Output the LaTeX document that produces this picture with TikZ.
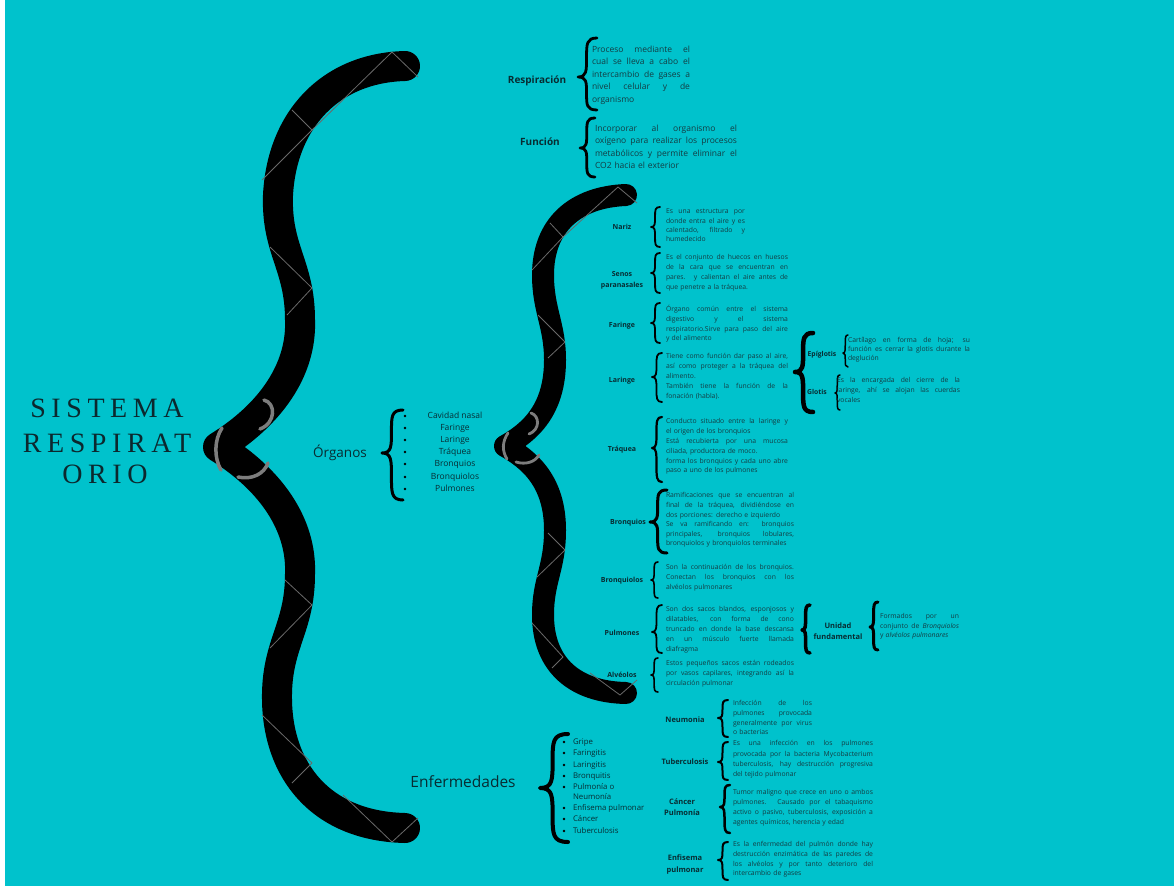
\documentclass[tikz,border=0pt]{standalone}
\usepackage{fontspec}
\setmainfont{Open Sans}
\newfontfamily\titlefont[LetterSpace=20]{Liberation Serif}
\definecolor{bg}{RGB}{0,194,204}
\definecolor{labc}{RGB}{8,44,50}
\definecolor{txtc}{RGB}{20,60,66}
\definecolor{titc}{RGB}{12,40,46}
\definecolor{curlc}{RGB}{125,125,125}
\definecolor{facetc}{RGB}{105,105,105}
\newcommand{\jl}[1]{\makebox[\linewidth][s]{\spaceskip=0pt\xspaceskip=0pt\relax #1}\par}
\newcommand{\cbr}[6][2]{%
 \pgfmathsetmacro\bxm{#2+0.45*(#3-#2)}%
 \pgfmathsetmacro\bua{#4+0.15*(#5-#4)}%
 \pgfmathsetmacro\bub{#4+0.5*(#5-#4)}%
 \pgfmathsetmacro\buc{#5-0.15*(#5-#4)}%
 \pgfmathsetmacro\bla{#5+0.15*(#6-#5)}%
 \pgfmathsetmacro\blb{#5+0.5*(#6-#5)}%
 \pgfmathsetmacro\blc{#6-0.15*(#6-#5)}%
 \draw[line width=#1pt, line cap=round, line join=round] (#3,#4) .. controls (\bxm,#4) and (\bxm,\bua) .. (\bxm,\bub) .. controls (\bxm,\buc) and (\bxm,#5) .. (#2,#5) .. controls (\bxm,#5) and (\bxm,\bla) .. (\bxm,\blb) .. controls (\bxm,\blc) and (\bxm,#6) .. (#3,#6);}
\begin{document}
\begin{tikzpicture}[x=1pt,y=-1pt,
 lab/.style={inner sep=0, outer sep=0, text=labc, anchor=base},
 slab/.style={lab, font=\bfseries\fontsize{7}{8}\selectfont},
 dlab/.style={lab, font=\bfseries\fontsize{7.5}{9}\selectfont},
 desc/.style={anchor=base west, inner sep=0, outer sep=0, text=txtc, align=left},
 bigb/.style={line width=30pt, line cap=round, line join=round, draw=black},
 facet/.style={draw=facetc, line width=0.8pt},
 curlst/.style={draw=curlc, line width=3.5pt, line cap=round},
 ttl/.style={anchor=base, inner sep=0, text=titc, font=\titlefont\fontsize{28}{30}\selectfont}
]
\fill[white] (0,0) rectangle (1174,888);
\fill[bg] (5,0) rectangle (1174,886);
\useasboundingbox (0,0) rectangle (1174,888);

% title
\node[ttl] (t1) at (107,417) {SISTEMA};
\node[ttl] (t2) at (107,452) {RESPIRAT};
\node[ttl] (t3) at (105,483) {ORIO};

% big brace
\draw[bigb] (405,66) .. controls (330,68) and (282,120) .. (278,195) .. controls (276,250) and (300,265) .. (300,320) .. controls (302,370) and (270,415) .. (218,447) .. controls (270,479) and (302,524) .. (300,574) .. controls (300,629) and (276,644) .. (277,700) .. controls (278,770) and (320,826) .. (405,828);
\foreach \a/\b in {{392,52}/{418,77},{392,52}/{312,130},{292,110}/{312,130},{312,130}/{262,180},{270,247}/{312,288},{312,288}/{287,315},{285,580}/{312,605},{312,605}/{270,648},{262,715}/{312,763},{312,763}/{292,783},{343,795}/{392,842},{392,842}/{418,818}}
  \draw[facet] (\a) -- (\b);
\draw[curlst] (264,400) .. controls (276,403) and (276,423) .. (260,429);
\draw[curlst] (222,428) .. controls (214,440) and (214,458) .. (221,470);
\draw[curlst] (238,477) .. controls (252,480) and (264,474) .. (268,463);

% organs brace
\draw[bigb, line width=22pt] (626,195) .. controls (575,197) and (543,225) .. (543,275) .. controls (543,310) and (555,325) .. (555,360) .. controls (555,410) and (530,432) .. (505,446) .. controls (530,460) and (555,482) .. (555,530) .. controls (555,568) and (543,580) .. (543,615) .. controls (543,665) and (575,692) .. (626,693);
\foreach \a/\b in {{618,187}/{637,203},{618,187}/{563,237},{550,223}/{563,237},{563,237}/{532,270},{538,315}/{565,342},{565,342}/{548,358},{548,533}/{565,550},{565,550}/{537,577},{532,623}/{563,657},{563,657}/{552,668},{590,673}/{620,695},{620,695}/{637,680}}
  \draw[facet] (\a) -- (\b);
\draw[curlst, line width=2.8pt] (531,413) .. controls (540,416) and (540,430) .. (529,434);
\draw[curlst, line width=2.8pt] (508,433) .. controls (502,442) and (502,451) .. (507,459);
\draw[curlst, line width=2.8pt] (516,462) .. controls (526,465) and (535,462) .. (539,455);

% top section
\node[lab, font=\bfseries\fontsize{10}{12}\selectfont] (lResp) at (537,84) {Respiración};
\cbr[2.8]{578}{597}{38}{77}{110}
\node[desc, text width=98pt, font=\fontsize{8.5}{12.5}\selectfont] (dResp) at (592,52.3) {\jl{Proceso mediante el}\jl{cual se lleva a cabo el}\jl{intercambio de gases a}\jl{nivel celular y de}organismo};
\node[lab, font=\bfseries\fontsize{10}{12}\selectfont] (lFunc) at (540,145) {Función};
\cbr[2.8]{580}{595}{118}{148}{177}
\node[desc, text width=142pt, font=\fontsize{8.5}{12.5}\selectfont] (dFunc) at (595,131.3) {\jl{Incorporar al organismo el}\jl{oxígeno para realizar los procesos}\jl{metabólicos y permite eliminar el}CO2 hacia el exterior};

% Organos
\node[lab, font=\fontsize{13.5}{15}\selectfont] (lOrg) at (340,457) {Órganos};
\cbr[3]{382}{403}{410}{453}{500}
\foreach \t/\y [count=\i] in {Cavidad nasal/416, Faringe/428, Laringe/440, Tráquea/452, Bronquios/464, Bronquiolos/477, Pulmones/489}{
  \fill[black] (405,\y) circle (1.4pt);
  \node[lab, font=\fontsize{8.5}{10}\selectfont] (org\i) at (455,{\y+2.4}) {\t};
}

% organ details
\node[slab] (lNar) at (622,229) {Nariz};
\cbr[1.8]{651}{660}{207}{227}{247}
\node[desc, text width=79pt, font=\fontsize{6.8}{9.3}\selectfont] (dNar) at (666,213.8) {\jl{Es una estructura por}\jl{donde entra el aire y es}\jl{calentado, filtrado y}humedecido};

\node[slab] (lSen1) at (622,276) {Senos};
\node[slab] (lSen2) at (622,287) {paranasales};
\cbr[1.8]{651}{660}{253}{273}{293}
\node[desc, text width=122pt, font=\fontsize{6.8}{9.9}\selectfont] (dSen) at (666,259.8) {\jl{Es el conjunto de huecos en huesos}\jl{de la cara que se encuentran en}\jl{pares. y calientan el aire antes de}que penetre a la tráquea.};

\node[slab] (lFar) at (622,327) {Faringe};
\cbr[1.8]{651}{660}{303}{323}{343}
\node[desc, text width=122pt, font=\fontsize{6.8}{9.7}\selectfont] (dFar) at (666,311.8) {\jl{Órgano común entre el sistema}\jl{digestivo y el sistema}\jl{respiratorio.Sirve para paso del aire}y del alimento};

\node[slab] (lLar) at (622,382) {Laringe};
\cbr[1.8]{652}{662}{353}{377}{402}
\node[desc, text width=122pt, font=\fontsize{6.8}{10}\selectfont] (dLar) at (666,358.8) {\jl{Tiene como función dar paso al aire,}\jl{así como proteger a la tráquea del}alimento.\par\jl{También tiene la función de la}fonación (habla).};

\cbr[4.5]{795}{813}{333}{372}{412}
\node[lab, font=\bfseries\fontsize{6.8}{8}\selectfont] (lEpi) at (822,356) {Epíglotis};
\cbr[1.5]{843}{848}{335}{353}{367}
\node[desc, text width=122pt, font=\fontsize{6.8}{9}\selectfont] (dEpi) at (848,342.8) {\jl{Cartílago en forma de hoja; su}\jl{función es cerrar la glotis durante la}deglución};
\node[lab, font=\bfseries\fontsize{6.8}{8}\selectfont] (lGlo) at (817,394) {Glotis};
\cbr[1.5]{835}{840}{375}{393}{410}
\node[desc, text width=123pt, font=\fontsize{6.8}{10}\selectfont] (dGlo) at (837,382.8) {\jl{Es la encargada del cierre de la}\jl{laringe, ahí se alojan las cuerdas}vocales};

\node[slab] (lTra) at (622,451) {Tráquea};
\cbr[2.2]{652}{662}{417}{448}{482}
\node[desc, text width=122pt, font=\fontsize{6.8}{9.8}\selectfont] (dTra) at (666,423.8) {\jl{Conducto situado entre la laringe y}el origen de los bronquios\par\jl{Está recubierta por una mucosa}ciliada, productora de moco.\par\jl{forma los bronquios y cada uno abre}paso a uno de los pulmones};

\node[slab] (lBro) at (628,524) {Bronquios};
\cbr[3]{650}{667}{490}{522}{553}
\node[desc, text width=128pt, font=\fontsize{6.8}{9.6}\selectfont] (dBro) at (666,497.8) {\jl{Ramificaciones que se encuentran al}\jl{final de la tráquea, dividiéndose en}dos porciones: derecho e izquierdo\par\jl{Se va ramificando en: bronquios}\jl{principales, bronquios lobulares,}bronquiolos y bronquiolos terminales};

\node[slab] (lBrl) at (622,582) {Bronquiolos};
\cbr[1.6]{651}{658}{562}{580}{598}
\node[desc, text width=128pt, font=\fontsize{6.8}{10}\selectfont] (dBrl) at (666,569.8) {\jl{Son la continuación de los bronquios.}\jl{Conectan los bronquios con los}alvéolos pulmonares};

\node[slab] (lPul) at (622,635) {Pulmones};
\cbr[1.8]{652}{662}{605}{632}{653}
\node[desc, text width=128pt, font=\fontsize{6.8}{10}\selectfont] (dPul) at (666,611.8) {\jl{Son dos sacos blandos, esponjosos y}\jl{dilatables, con forma de cono}\jl{truncado en donde la base descansa}\jl{en un músculo fuerte llamada}diafragma};

\cbr[3.5]{802}{810}{605}{630}{653}
\node[dlab] (lUni1) at (838,628.5) {Unidad};
\node[dlab] (lUni2) at (838,639.5) {fundamental};
\cbr[3]{870}{878}{602}{627}{650}
\node[desc, text width=79pt, font=\fontsize{6.8}{9.5}\selectfont] (dUni) at (880,618.8) {\jl{Formados por un}\jl{conjunto de \textit{Bronquiolos}}y \textit{alvéolos pulmonares}};

\node[slab] (lAlv) at (622,677) {Alvéolos};
\cbr[1.6]{651}{658}{658}{675}{692}
\node[desc, text width=128pt, font=\fontsize{6.8}{9.7}\selectfont] (dAlv) at (666,665.8) {\jl{Estos pequeños sacos están rodeados}\jl{por vasos capilares, integrando así la}circulación pulmonar};

% Enfermedades
\node[lab, font=\fontsize{15.5}{17}\selectfont] (lEnf) at (463,787) {Enfermedades};
\cbr[4]{540}{568}{734}{788}{842}
\foreach \t/\y [count=\i] in {Gripe/742, Faringitis/753, Laringitis/765, Bronquitis/776, Pulmonía o/787, Enfisema pulmonar/808, Cáncer/819, Tuberculosis/831}{
  \fill[black] (564,\y) circle (1.3pt);
  \node[lab, anchor=base west, font=\fontsize{7.8}{9}\selectfont] (enf\i) at (573,{\y+2.1}) {\t};
}
\node[lab, anchor=base west, font=\fontsize{7.8}{9}\selectfont] (enfN) at (573,799.1) {Neumonía};

\node[dlab] (lNeu) at (685,722) {Neumonia};
\cbr[2]{718}{728}{700}{718}{737}
\node[desc, text width=79pt, font=\fontsize{6.8}{9.6}\selectfont] (dNeu) at (733,705.8) {\jl{Infección de los}\jl{pulmones provocada}\jl{generalmente por virus}o bacterias};

\node[dlab] (lTub) at (685,764) {Tuberculosis};
\cbr[2]{718}{728}{742}{762}{780}
\node[desc, text width=140pt, font=\fontsize{6.8}{10.3}\selectfont] (dTub) at (733,745.8) {\jl{Es una infección en los pulmones}\jl{provocada por la bacteria Mycobacterium}\jl{tuberculosis, hay destrucción progresiva}del tejido pulmonar};

\node[dlab] (lCan1) at (682,804) {Cáncer};
\node[dlab] (lCan2) at (682,815) {Pulmonía};
\cbr[2.5]{720}{730}{785}{807}{833}
\node[desc, text width=140pt, font=\fontsize{6.8}{9.8}\selectfont] (dCan) at (733,794.8) {\jl{Tumor maligno que crece en uno o ambos}\jl{pulmones. Causado por el tabaquismo}\jl{activo o pasivo, tuberculosis, exposición a}agentes químicos, herencia y edad};

\node[dlab] (lEnf1) at (685,860) {Enfisema};
\node[dlab] (lEnf2) at (685,872) {pulmonar};
\cbr[2]{718}{728}{842}{860}{880}
\node[desc, text width=140pt, font=\fontsize{6.8}{9.7}\selectfont] (dEnf) at (733,846.8) {\jl{Es la enfermedad del pulmón donde hay}\jl{destrucción enzimática de las paredes de}\jl{los alvéolos y por tanto deterioro del}intercambio de gases};
\end{tikzpicture}
\end{document}
